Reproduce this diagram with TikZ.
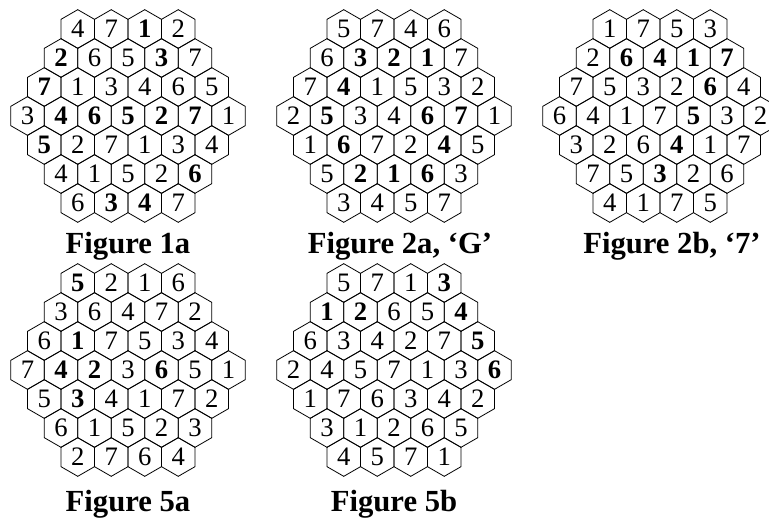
\documentclass[tikz,border=0pt]{standalone}
\usepackage{fontspec}
\setmainfont{Liberation Serif}
\usetikzlibrary{shapes.geometric}
% bold entry
\newcommand{\bn}[1]{\textbf{#1}}
% board: name, centre x, centre y, rows
\newcommand{\hexboard}[4]{%
  \foreach \row [count=\i from 0] in {#4} {
    \pgfmathtruncatemacro{\n}{7-abs(\i-3)}
    \foreach \v [count=\j from 0] in \row {
      \node[cell] (#1-\i-\j) at ({#2+(\j-(\n-1)/2)*33.5},{#3+(\i-3)*29.0}) {\v};
    }
  }%
}

\begin{document}
\begin{tikzpicture}[x=0.75pt,y=-0.75pt,
    cell/.style={draw, line width=0.6pt, regular polygon, regular polygon sides=6,
      shape border rotate=30, minimum size=29pt, inner sep=0pt,
      font=\fontsize{20}{22}\selectfont},
    figlabel/.style={anchor=base, font=\fontsize{23}{26}\selectfont\bfseries}]
\useasboundingbox (0,0) rectangle (769,525);
% Figure 1a
\hexboard{fa}{128}{116}{{4,7,\bn1,2},{\bn2,6,5,\bn3,7},{\bn7,1,3,4,6,5},
  {3,\bn4,\bn6,\bn5,\bn2,\bn7,1},{\bn5,2,7,1,3,4},{4,1,5,2,\bn6},{6,\bn3,\bn4,7}}
\node[figlabel] (capfa) at (128,253) {Figure 1a};
% Figure 2a
\hexboard{fb}{394}{116}{{5,7,4,6},{6,\bn3,\bn2,\bn1,7},{7,\bn4,1,5,3,2},
  {2,\bn5,3,4,\bn6,\bn7,1},{1,\bn6,7,2,\bn4,5},{5,\bn2,\bn1,\bn6,3},{3,4,5,7}}
\node[figlabel] (capfb) at (400,253) {Figure 2a, ‘G’};
% Figure 2b
\hexboard{fc}{660}{116}{{1,7,5,3},{2,\bn6,\bn4,\bn1,\bn7},{7,5,3,2,\bn6,4},
  {6,4,1,7,\bn5,3,2},{3,2,6,\bn4,1,7},{7,5,\bn3,2,6},{4,1,7,5}}
\node[figlabel] (capfc) at (672,253) {Figure 2b, ‘7’};
% Figure 5a
\hexboard{fd}{128}{370}{{\bn5,2,1,6},{3,6,4,7,2},{6,\bn1,7,5,3,4},
  {7,\bn4,\bn2,3,\bn6,5,1},{5,\bn3,4,1,7,2},{6,1,5,2,3},{2,7,6,4}}
\node[figlabel] (capfd) at (128,511) {Figure 5a};
% Figure 5b
\hexboard{fe}{394}{370}{{5,7,1,\bn3},{\bn1,\bn2,6,5,\bn4},{6,3,4,2,7,\bn5},
  {2,4,5,7,1,3,\bn6},{1,7,6,3,4,2},{3,1,2,6,5},{4,5,7,1}}
\node[figlabel] (capfe) at (394,511) {Figure 5b};
\end{tikzpicture}
\end{document}
